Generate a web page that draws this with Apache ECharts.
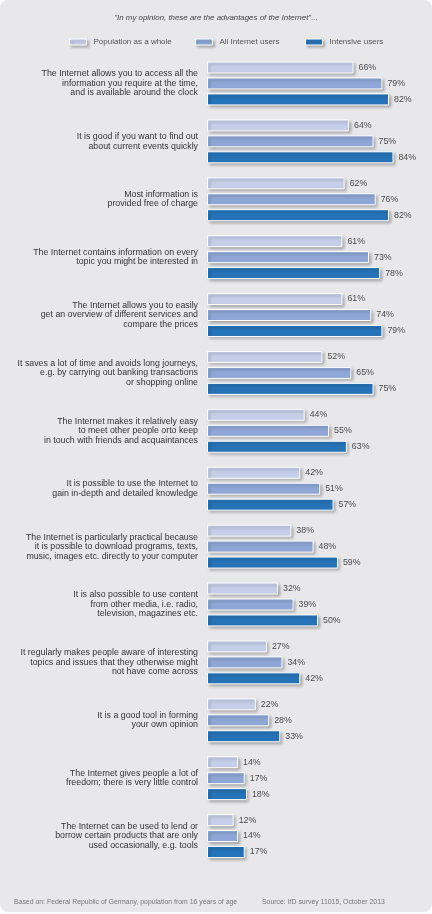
<!DOCTYPE html>
<html>
<head>
<meta charset="utf-8">
<script src="https://cdn.jsdelivr.net/npm/echarts@6/dist/echarts.min.js"></script>
<style>
html,body{margin:0;padding:0;background:#ffffff;}
#c{width:432px;height:914px;}
</style>
</head>
<body>
<div id="c"></div>
<script>
var categories = [
  "The Internet allows you to access all the\ninformation you require at the time,\nand is available around the clock",
  "It is good if you want to find out\nabout current events quickly",
  "Most information is\nprovided free of charge",
  "The Internet contains information on every\ntopic you might be interested in",
  "The Internet allows you to easily\nget an overview of different services and\ncompare the prices",
  "It saves a lot of time and avoids long journeys,\ne.g. by carrying out banking transactions\nor shopping online",
  "The Internet makes it relatively easy\nto meet other people orto keep\nin touch with friends and acquaintances",
  "It is possible to use the Internet to\ngain in-depth and detailed knowledge",
  "The Internet is particularly practical because\nit is possible to download programs, texts,\nmusic, images etc. directly to your computer",
  "It is also possible to use content\nfrom other media, i.e. radio,\ntelevision, magazines etc.",
  "It regularly makes people aware of interesting\ntopics and issues that they otherwise might\nnot have come across",
  "It is a good tool in forming\nyour own opinion",
  "The Internet gives people a lot of\nfreedom; there is very little control",
  "The Internet can be used to lend or\nborrow certain products that are only\nused occasionally, e.g. tools"
];
var seriesNames = ["Population as a whole", "All Internet users", "Intensive users"];
var population = [66, 64, 62, 61, 61, 52, 44, 42, 38, 32, 27, 22, 14, 12];
var allUsers   = [79, 75, 76, 73, 74, 65, 55, 51, 48, 39, 34, 28, 17, 14];
var intensive  = [82, 84, 82, 78, 79, 75, 63, 57, 59, 50, 42, 33, 18, 17];
var titleText = "\"In my opinion, these are the advantages of the Internet\"...";
var footLeft = "Based on: Federal Republic of Germany, population from 16 years of age";
var footRight = "Source: IfD survey 11015, October 2013";

var colors = ["#c5cfe9", "#8ea7d6", "#2673b8"];
var FONT = "Liberation Sans, Arial, sans-serif";

var chart = echarts.init(document.getElementById('c'), null, {renderer: 'canvas'});

function mkSeries(name, data, color) {
  return {
    name: name,
    type: 'bar',
    data: data,
    barWidth: 12,
    barGap: '33%',
    itemStyle: {
      color: color,
      borderColor: '#ffffff',
      borderWidth: 1,
      shadowColor: 'rgba(0,0,0,0.28)',
      shadowBlur: 3,
      shadowOffsetX: 2,
      shadowOffsetY: 2
    },
    label: {
      show: true,
      position: 'right',
      distance: 5,
      formatter: '{c}%',
      color: '#4a4a4a',
      fontSize: 8.8,
      fontFamily: FONT
    },
    emphasis: {disabled: true},
    animation: false
  };
}

function mkLegend(i, left) {
  return {
    data: [seriesNames[i]],
    left: left,
    top: 38,
    padding: 0,
    itemWidth: 17,
    itemHeight: 6,
    icon: 'rect',
    itemStyle: {
      borderColor: '#ffffff',
      borderWidth: 1,
      shadowColor: 'rgba(0,0,0,0.25)',
      shadowBlur: 3,
      shadowOffsetX: 2,
      shadowOffsetY: 2
    },
    textStyle: {color: '#555555', fontSize: 8, fontFamily: FONT, padding: [0, 0, 0, 2]},
    selectedMode: false
  };
}

chart.setOption({
  animation: false,
  graphic: [
    {type: 'rect', z: -10, silent: true, shape: {x: 0, y: 0, width: 432, height: 912, r: 8},
     style: {fill: '#e8e8ea'}},
    {type: 'text', left: 'center', top: 14, silent: true,
     style: {text: titleText, fill: '#444444', font: 'italic 7.9px ' + FONT}},
    {type: 'text', left: 14, top: 899, silent: true,
     style: {text: footLeft, fill: '#777777', font: '6.9px ' + FONT}},
    {type: 'text', left: 262, top: 899, silent: true,
     style: {text: footRight, fill: '#777777', font: '6.9px ' + FONT}}
  ],
  legend: [mkLegend(0, 69), mkLegend(1, 195), mkLegend(2, 305)],
  grid: {left: 207, right: 3, top: 54.5, bottom: 49, containLabel: false},
  xAxis: {
    type: 'value', min: 0, max: 100, show: false
  },
  yAxis: {
    type: 'category',
    data: categories,
    inverse: true,
    axisLine: {show: false},
    axisTick: {show: false},
    splitLine: {show: false},
    axisLabel: {
      margin: 9,
      color: '#333333',
      fontSize: 8.8,
      lineHeight: 9.5,
      fontFamily: FONT,
      align: 'right'
    }
  },
  series: [
    mkSeries(seriesNames[0], population, colors[0]),
    mkSeries(seriesNames[1], allUsers, colors[1]),
    mkSeries(seriesNames[2], intensive, colors[2])
  ]
});
</script>
</body>
</html>
